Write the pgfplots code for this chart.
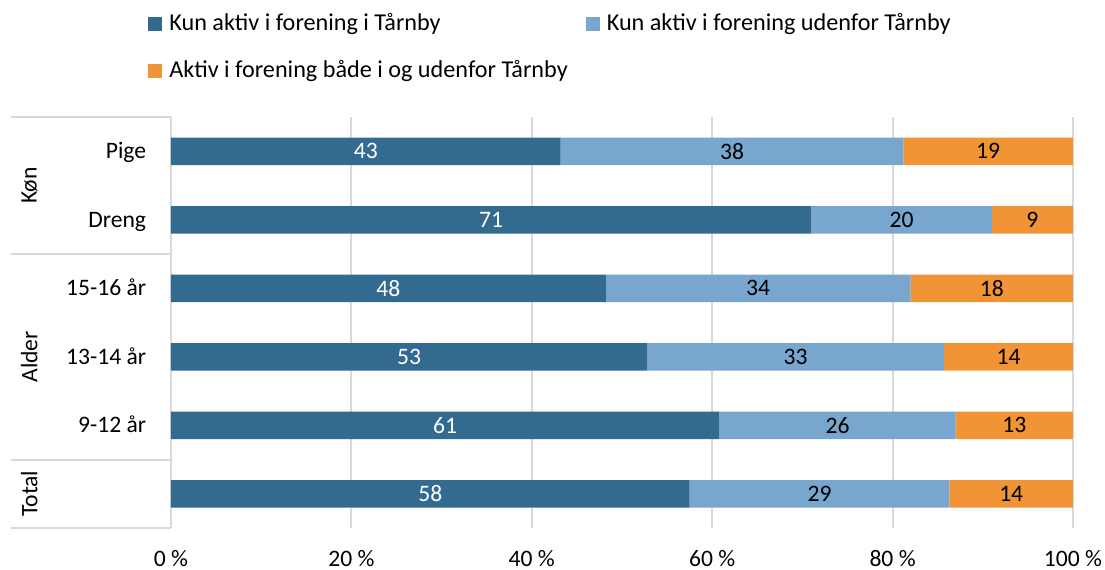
\documentclass[border=0pt]{standalone}
\usepackage{pgfplots}
\pgfplotsset{compat=1.18}
\usepackage{pgfplotstable}
\usepackage{fontspec}
\setmainfont{Carlito}
\definecolor{cdark}{HTML}{336A90}
\definecolor{clight}{HTML}{78A6CE}
\definecolor{corange}{HTML}{F09436}
\definecolor{cgrid}{HTML}{D9D9D9}
\pgfplotstableread{
y a b c
5 43.2 38.0 18.8
4 71.0 20.0 9.0
3 48.2 33.8 18.0
2 52.8 32.9 14.3
1 60.8 26.2 13.0
0 57.5 28.8 13.7
}\datatable
\begin{document}
\fontsize{11.8pt}{14pt}\selectfont
\begin{tikzpicture}
\begin{axis}[
  name=ax,
  scale only axis,
  width=451pt, height=205.5pt,
  xbar stacked,
  bar width=13.75pt,
  xmin=0, xmax=100, ymin=-0.5, ymax=5.5,
  xtick={0,20,...,100},
  xticklabels={0 \%,20 \%,40 \%,60 \%,80 \%,100 \%},
  ytick={0,...,5},
  yticklabels={{},9-12 år,13-14 år,15-16 år,Dreng,Pige},
  major tick length=0pt,
  xmajorgrids,
  grid style={draw=cgrid, line width=1pt},
  axis line style={draw=none},
  xticklabel style={anchor=base, inner sep=0pt, yshift=-19pt},
  yticklabel style={anchor=base east, inner sep=0pt, xshift=-12.25pt, yshift=-3.8pt},
  clip=false,
  /pgf/number format/assume math mode=true,
  point meta=explicit,
  nodes near coords={\pgfmathprintnumber[fixed,precision=0]{\pgfplotspointmeta}},
  every node near coord/.append style={anchor=center, inner sep=0pt},
  every axis plot/.append style={draw=none,
    legend image code/.code={\fill[##1] (0pt,-3.5pt) rectangle (7pt,3.5pt); \path (9pt,0pt);}},
  legend columns=2,
  legend cell align=left,
  legend style={at={(-0.0255,1.26)}, anchor=north west, draw=none, fill=none,
    font=\fontsize{12.1pt}{14.5pt}\selectfont,
    inner sep=0pt, row sep=10pt, nodes={inner sep=1.5pt},
    /tikz/every even column/.append style={column sep=7.5pt}},
]
\addplot[fill=cdark, every node near coord/.append style={text=white}]
  table[x=a,y=y,meta=a]{\datatable};
\addplot[fill=clight, every node near coord/.append style={text=black}]
  table[x=b,y=y,meta=b]{\datatable};
\addplot[fill=corange, every node near coord/.append style={text=black}]
  table[x=c,y=y,meta=c]{\datatable};
\legend{Kun aktiv i forening i Tårnby, Kun aktiv i forening udenfor Tårnby, Aktiv i forening både i og udenfor Tårnby}
\draw[cgrid, line width=1pt] (axis cs:-17.7,5.5) -- (axis cs:0,5.5);
\draw[cgrid, line width=1pt] (axis cs:-17.7,3.5) -- (axis cs:0,3.5);
\draw[cgrid, line width=1pt] (axis cs:-17.7,0.5) -- (axis cs:0,0.5);
\draw[cgrid, line width=1pt] (axis cs:-17.7,-0.5) -- (axis cs:0,-0.5);
\node[rotate=90] at (axis cs:-15.7,4.5) {Køn};
\node[rotate=90] at (axis cs:-15.7,2) {Alder};
\node[rotate=90] at (axis cs:-15.7,0) {Total};
\end{axis}
\pgfresetboundingbox
\path[use as bounding box] ([shift={(-85.5pt,-20.5pt)}]ax.south west) rectangle ([shift={(467pt,264pt)}]ax.south west);
\end{tikzpicture}
\end{document}
